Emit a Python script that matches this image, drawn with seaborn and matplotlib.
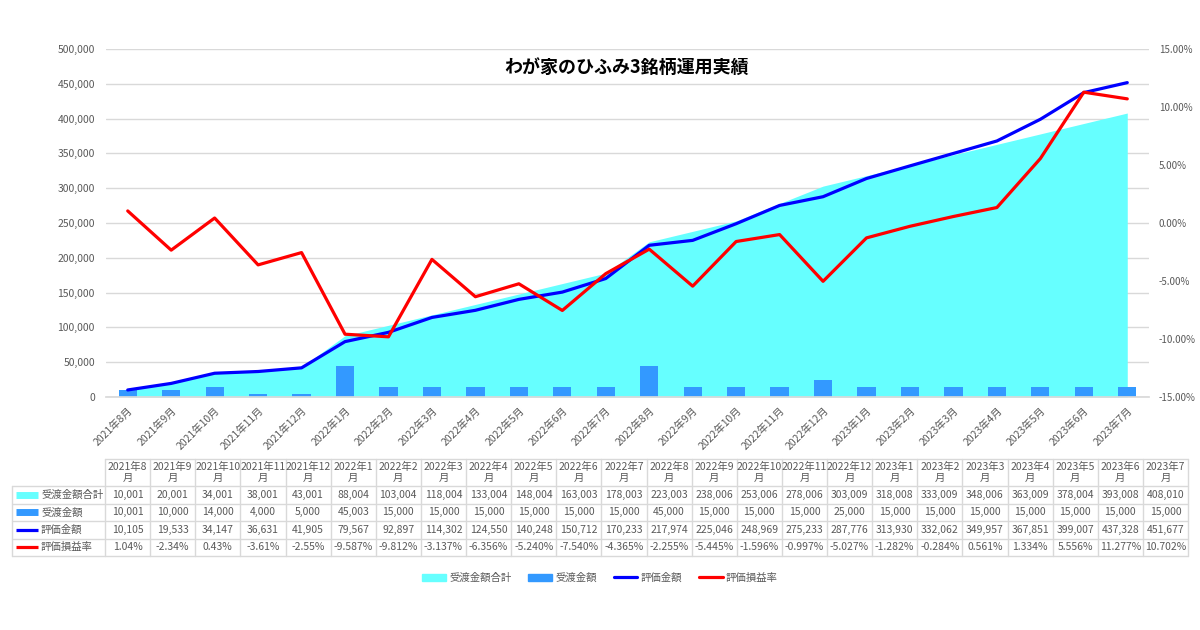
import numpy as np
import pandas as pd
import seaborn as sns
import matplotlib.pyplot as plt
from matplotlib.lines import Line2D
from matplotlib.patches import Patch
from matplotlib.ticker import FuncFormatter, MultipleLocator

months = ["2021年8月", "2021年9月", "2021年10月", "2021年11月", "2021年12月",
          "2022年1月", "2022年2月", "2022年3月", "2022年4月", "2022年5月",
          "2022年6月", "2022年7月", "2022年8月", "2022年9月", "2022年10月",
          "2022年11月", "2022年12月", "2023年1月", "2023年2月", "2023年3月",
          "2023年4月", "2023年5月", "2023年6月", "2023年7月"]
total = [10001, 20001, 34001, 38001, 43001, 88004, 103004, 118004, 133004,
         148004, 163003, 178003, 223003, 238006, 253006, 278006, 303009,
         318008, 333009, 348006, 363009, 378004, 393008, 408010]
deposit = [10001, 10000, 14000, 4000, 5000, 45003, 15000, 15000, 15000,
           15000, 15000, 15000, 45000, 15000, 15000, 15000, 25000, 15000,
           15000, 15000, 15000, 15000, 15000, 15000]
value = [10105, 19533, 34147, 36631, 41905, 79567, 92897, 114302, 124550,
         140248, 150712, 170233, 217974, 225046, 248969, 275233, 287776,
         313930, 332062, 349957, 367851, 399007, 437328, 451677]
rate_labels = ["1.04%", "-2.34%", "0.43%", "-3.61%", "-2.55%", "-9.587%",
               "-9.812%", "-3.137%", "-6.356%", "-5.240%", "-7.540%",
               "-4.365%", "-2.255%", "-5.445%", "-1.596%", "-0.997%",
               "-5.027%", "-1.282%", "-0.284%", "0.561%", "1.334%",
               "5.556%", "11.277%", "10.702%"]
rate = [float(s.rstrip("%")) / 100 for s in rate_labels]

series_names = ["受渡金額合計", "受渡金額", "評価金額", "評価損益率"]
title = "わが家のひふみ3銘柄運用実績"

C_AREA = "#66FFFF"
C_BAR = "#3399FF"
C_VALUE = "#0000FF"
C_RATE = "#FF0000"
GREY = "#595959"
GRID = "#d9d9d9"

sns.set_theme(style="white")
plt.rcParams["font.family"] = ["Noto Sans CJK JP", "DejaVu Sans"]

df = pd.DataFrame({"month": months, "pos": np.arange(len(months)),
                   "total": total, "deposit": deposit,
                   "value": value, "rate": rate})

fig = plt.figure(figsize=(12, 6.3), dpi=100)
ax = fig.add_axes([106 / 1200, 233 / 630, 1043 / 1200, 348 / 630])

sns.barplot(data=df, x="month", y="deposit", color=C_BAR, saturation=1,
            width=0.42, linewidth=0, ax=ax, zorder=2)
ax.fill_between(df["pos"], df["total"], color=C_AREA, lw=0, zorder=1)
sns.lineplot(data=df, x="pos", y="value", color=C_VALUE, lw=2.3, ax=ax,
             zorder=3)

ax.set_ylim(0, 500000)
ax.yaxis.set_major_locator(MultipleLocator(50000))
ax.yaxis.set_major_formatter(FuncFormatter(lambda v, p: f"{int(v):,}"))
ax.grid(axis="y", color=GRID, lw=1)
ax.set_axisbelow(True)
ax.set_xlabel("")
ax.set_ylabel("")

ax2 = ax.twinx()
sns.lineplot(data=df, x="pos", y="rate", color=C_RATE, lw=2.3, ax=ax2)
ax2.set_ylim(-0.15, 0.15)
ax2.yaxis.set_major_locator(MultipleLocator(0.05))
ax2.yaxis.set_major_formatter(FuncFormatter(lambda v, p: f"{v * 100:.2f}%"))
ax2.set_ylabel("")
ax2.grid(False)

ax.set_xlim(-0.5, len(months) - 0.5)
ax.set_xticks(df["pos"])
ax.set_xticklabels(months, rotation=45, ha="right", va="top",
                   rotation_mode="anchor")
ax.set_xticks(np.arange(len(months) + 1) - 0.5, minor=True)
ax.tick_params(axis="x", which="major", length=0, pad=6, labelsize=7.5,
               labelcolor=GREY)
ax.tick_params(axis="x", which="minor", length=4, color=GRID, width=1)
ax.tick_params(axis="y", length=0, labelsize=7.5, labelcolor=GREY, pad=8)
ax2.tick_params(axis="y", length=0, labelsize=7, labelcolor=GREY, pad=7)

for a in (ax, ax2):
    for s in a.spines.values():
        s.set_visible(False)
ax.spines["bottom"].set_visible(True)
ax.spines["bottom"].set_color(GRID)

fig.text(627 / 1200, 1 - 67 / 630, title, ha="center", va="center",
         fontsize=13, fontweight="bold", color="#000000")

# data table under the chart
tab = fig.add_axes([0, 0, 1, 1])
tab.set_xlim(0, 1200)
tab.set_ylim(630, 0)
tab.axis("off")
tab.patch.set_alpha(0)

x0, x1, lab_x0 = 105, 1188, 12
col_w = (x1 - x0) / len(months)
y_head, y_rows = 459, [486, 503.5, 521, 538.5, 556]
line_kw = dict(color=GRID, lw=1)

tab.plot([x0, x1], [y_head, y_head], **line_kw)
for y in y_rows:
    tab.plot([lab_x0, x1], [y, y], **line_kw)
tab.plot([lab_x0, lab_x0], [y_rows[0], y_rows[-1]], **line_kw)
for i in range(len(months) + 1):
    xx = x0 + i * col_w
    tab.plot([xx, xx], [y_head, y_rows[-1]], **line_kw)

for i, m in enumerate(months):
    cx = x0 + (i + 0.5) * col_w
    tab.text(cx, (y_head + y_rows[0]) / 2, m[:-1] + "\n" + m[-1],
             ha="center", va="center", fontsize=7.5, color=GREY,
             linespacing=1.15)

rows = [[f"{v:,}" for v in total], [f"{v:,}" for v in deposit],
        [f"{v:,}" for v in value], rate_labels]
keys = [("patch", C_AREA), ("patch", C_BAR), ("line", C_VALUE),
        ("line", C_RATE)]
for r, (cells, name, (kind, col)) in enumerate(zip(rows, series_names, keys)):
    cy = (y_rows[r] + y_rows[r + 1]) / 2
    if kind == "patch":
        tab.plot([16, 38], [cy, cy], color=col, lw=5, solid_capstyle="butt")
    else:
        tab.plot([16, 38], [cy, cy], color=col, lw=2.3, solid_capstyle="butt")
    tab.text(41, cy, name, ha="left", va="center", fontsize=7.5, color=GREY)
    for i, c in enumerate(cells):
        tab.text(x0 + (i + 0.5) * col_w, cy, c, ha="center", va="center",
                 fontsize=7.5, color=GREY)

handles = [Patch(color=C_AREA), Patch(color=C_BAR),
           Line2D([], [], color=C_VALUE, lw=2.3),
           Line2D([], [], color=C_RATE, lw=2.3)]
fig.legend(handles, series_names, loc="center", bbox_to_anchor=(0.5, 52 / 630),
           ncol=4, frameon=False, fontsize=7.5, labelcolor=GREY,
           handlelength=2.3, handletextpad=0.3, columnspacing=1.6)

fig.savefig("out.png", dpi=100, facecolor="white")
